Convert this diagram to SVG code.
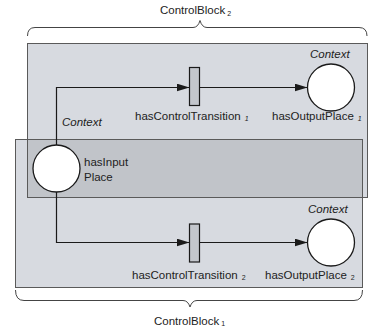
<svg xmlns="http://www.w3.org/2000/svg" width="368" height="333" viewBox="0 0 368 333">
<defs>
<marker id="arr" markerWidth="13" markerHeight="8" refX="13" refY="4" orient="auto" markerUnits="userSpaceOnUse">
<path d="M0,0 L13,4 L0,8 Z" fill="#1a1a1a"/>
</marker>
<style>
text{font-family:"Liberation Sans",Arial,sans-serif;font-size:11.5px;fill:#222}
.it{font-style:italic}
.sub{font-size:7px}
.blk{stroke:#5a5a5a;stroke-width:1;fill:none}
.brace{stroke:#444;stroke-width:1;fill:none}
.place{fill:#fff;stroke:#1a1a1a;stroke-width:1.3}
.trans{fill:#c3c6cc;stroke:#1a1a1a;stroke-width:1.2}
.arc{stroke:#1a1a1a;stroke-width:1.2;fill:none}
</style>
</defs>
<rect width="368" height="333" fill="#fff"/>
<g id="ControlBlock2">
<rect x="27.5" y="43.5" width="340" height="154" fill="#d7dae0"/>
</g>
<g id="ControlBlock1">
<rect x="15.5" y="139.5" width="347" height="148" fill="#d7dae0"/>
<rect x="27.5" y="139.5" width="335" height="58" fill="#c1c4c9"/>
<rect x="27.5" y="43.5" width="340" height="154" class="blk"/>
<rect x="15.5" y="139.5" width="347" height="148" class="blk"/>
</g>
<g id="braces">
<path class="brace" d="M27.5,36 Q27.5,27.5 35,27.5 L193,27.5 Q198,27.5 200,20.5 Q202,27.5 207,27.5 L359,27.5 Q367,27.5 367,36"/>
<path class="brace" d="M15.5,290 Q15.5,300.5 24,300.5 L183,300.5 Q188,300.5 190,307 Q192,300.5 197,300.5 L354,300.5 Q362.5,300.5 362.5,290"/>
<text x="160" y="14">ControlBlock<tspan class="sub" dx="2" dy="2">2</tspan></text>
<text x="154" y="325">ControlBlock<tspan class="sub" dx="2" dy="1">1</tspan></text>
</g>
<g id="connectors">
<path class="arc" d="M56.5,145 L56.5,87.5 L189.5,87.5" marker-end="url(#arr)"/>
<path class="arc" d="M199.5,87.5 L307.5,87.5" marker-end="url(#arr)"/>
<path class="arc" d="M56.5,192 L56.5,242.5 L189.5,242.5" marker-end="url(#arr)"/>
<path class="arc" d="M199.5,242.5 L307.5,242.5" marker-end="url(#arr)"/>
</g>
<g id="hasInputPlace">
<circle class="place" cx="56.5" cy="168.5" r="23.5"/>
<text x="62" y="126" class="it">Context</text>
<text x="84" y="166">hasInput</text>
<text x="84" y="181">Place</text>
</g>
<g id="hasControlTransition1">
<rect class="trans" x="189.5" y="67.5" width="10" height="38"/>
<text x="135" y="120">hasControlTransition<tspan class="sub it" dx="4" dy="1">1</tspan></text>
</g>
<g id="hasOutputPlace1">
<circle class="place" cx="331" cy="87.5" r="23.5"/>
<text x="310" y="58" class="it">Context</text>
<text x="272" y="120">hasOutputPlace<tspan class="sub it" dx="4" dy="1">1</tspan></text>
</g>
<g id="hasControlTransition2">
<rect class="trans" x="189.5" y="224" width="10" height="38"/>
<text x="132" y="279">hasControlTransition<tspan class="sub" dx="4" dy="1">2</tspan></text>
</g>
<g id="hasOutputPlace2">
<circle class="place" cx="331" cy="242.5" r="23.5"/>
<text x="308" y="213" class="it">Context</text>
<text x="265" y="279">hasOutputPlace<tspan class="sub" dx="4" dy="1">2</tspan></text>
</g>
</svg>
